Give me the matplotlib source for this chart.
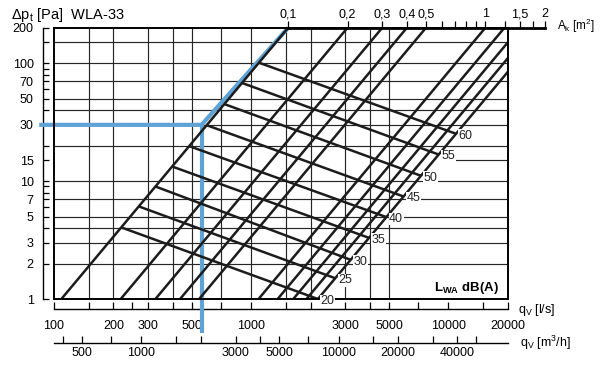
import numpy as np
import matplotlib
matplotlib.use("Agg")
import matplotlib.pyplot as plt
from matplotlib.ticker import NullFormatter, NullLocator

plt.rcParams['font.family'] = ['Liberation Sans', 'DejaVu Sans']
plt.rcParams['mathtext.fontset'] = 'custom'
plt.rcParams['mathtext.rm'] = 'Liberation Sans'
plt.rcParams['mathtext.it'] = 'Liberation Sans:italic'
plt.rcParams['mathtext.bf'] = 'Liberation Sans:bold'

# ---------------- data ----------------
q_range = [100, 20000]          # l/s
p_range = [1, 200]              # Pa
area_lines = [0.1, 0.2, 0.3, 0.4, 0.5, 1.0, 1.25, 1.5, 1.75, 2.0]   # A_k m2
K_area = 15410                  # q (l/s) per m2 of A_k at p_ref
p_ref = 200
lwa_levels = [20, 25, 30, 35, 40, 45, 50, 55, 60]
lwa_p_at_amin = [4.05, 6.1, 9.0, 13.3, 19.8, 29.8, 45.0, 68.0, 101.0]  # on A=0.1 line
lwa_p_at_amax = [1.0, 1.5, 2.15, 3.3, 4.95, 7.4, 11.1, 16.8, 25.2]     # on A=2 line
grid_q = [150, 200, 300, 400, 500, 700, 1000, 1500, 2000, 3000, 4000, 5000]
grid_p = [2, 3, 4, 5, 7, 10, 20, 30, 40, 50, 70, 100, 150]
grid_p_partial = 15
grid_p_partial_q = [10800, 20000]
y_major = [1, 2, 3, 5, 7, 10, 15, 30, 50, 70, 100, 200]
y_minor = [4, 6, 8, 9, 20, 40, 60, 80, 90, 150]
qls_major = [100, 200, 300, 500, 1000, 3000, 5000, 10000, 20000]
qls_minor = [150, 250, 400, 700, 1500, 2000, 4000, 7000, 15000]
qm3h_major = [500, 1000, 3000, 5000, 10000, 20000, 40000]
qm3h_minor = [400, 700, 1500, 2000, 4000, 7000, 15000, 30000, 50000]
A_major = [0.1, 0.2, 0.3, 0.4, 0.5, 1, 1.5, 2]
A_major_labels = ['0,1', '0,2', '0,3', '0,4', '0,5', '1', '1,5', '2']
A_minor = [0.6, 0.7, 0.8, 0.9, 1.25, 1.75]
q_sel = 560
p_sel = 30

# ---------------- figure ----------------
fig = plt.figure(figsize=(6.0, 3.65), dpi=100)
ax_l, ax_b, ax_w, ax_h = 0.09, 0.1808, 0.7562, 0.7433
ax = fig.add_axes([ax_l, ax_b, ax_w, ax_h])
ax.set_xscale('log')
ax.set_yscale('log')
ax.set_xlim(*q_range)
ax.set_ylim(*p_range)

# grid via main-axis ticks
ax.set_xticks(grid_q)
ax.set_yticks(grid_p)
ax.xaxis.set_minor_locator(NullLocator())
ax.yaxis.set_minor_locator(NullLocator())
ax.tick_params(which='both', length=0, labelbottom=False, labelleft=False)
ax.set_axisbelow(True)
ax.grid(True, which='major', color='#262626', lw=0.85)
ax.hlines(grid_p_partial, grid_p_partial_q[0], grid_p_partial_q[1], color='#262626', lw=0.85, zorder=0.5)
for s in ax.spines.values():
    s.set_linewidth(1.4)
    s.set_color('black')
    s.set_zorder(2.6)

line_col = '#1c1c1c'
# area lines
p_ends = np.array(p_range, dtype=float)
for A in area_lines:
    q = K_area * A * np.sqrt(p_ends / p_ref)
    ax.plot(q, p_ends, color=line_col, lw=1.8, solid_capstyle='butt', zorder=2)

# sound level lines
Amin, Amax = min(area_lines), max(area_lines)
for L, pl, pr in zip(lwa_levels, lwa_p_at_amin, lwa_p_at_amax):
    ql = K_area * Amin * np.sqrt(pl / p_ref)
    qr = K_area * Amax * np.sqrt(pr / p_ref)
    ax.plot([ql, qr], [pl, pr], color=line_col, lw=1.8, solid_capstyle='butt', zorder=2)
    ax.annotate(str(L), xy=(qr, pr), xytext=(2.0, -1.4), textcoords='offset points',
                ha='left', va='center', fontsize=9, color='#222',
                bbox=dict(fc='white', ec='none', pad=0.3), zorder=4, annotation_clip=False)

# selection (blue)
blue = '#5fa3d6'
q_left_ext = q_range[0] * 10 ** (-0.075)
p_low_ext = p_range[0] * 10 ** (-0.29)
ax.plot([q_left_ext, q_sel, K_area * Amin], [p_sel, p_sel, p_ref], color=blue, lw=3.0,
        solid_joinstyle='miter', solid_capstyle='butt', clip_on=False, zorder=1.5)
ax.plot([q_sel, q_sel], [p_sel, p_low_ext], color=blue, lw=3.0,
        solid_capstyle='butt', clip_on=False, zorder=1.5)

tick_fs = 9

# left pressure axis
secy = ax.secondary_yaxis(-0.025, functions=(lambda x: x, lambda x: x))
secy.set_yticks(y_major, labels=[str(v) for v in y_major])
secy.set_yticks(y_minor, minor=True)
secy.yaxis.set_minor_formatter(NullFormatter())
secy.tick_params(which='both', direction='in', length=4, width=0.9, labelsize=tick_fs, pad=6.5)
secy.spines['left'].set_linewidth(1.0)

# bottom l/s axis
secx = ax.secondary_xaxis(-0.038, functions=(lambda x: x, lambda x: x))
secx.set_xticks(qls_major, labels=[str(v) for v in qls_major])
secx.set_xticks(qls_minor, minor=True)
secx.xaxis.set_minor_formatter(NullFormatter())
secx.tick_params(which='both', direction='in', length=5, width=0.9, labelsize=tick_fs, pad=7.5)
secx.spines['bottom'].set_linewidth(1.0)

# bottom m3/h axis
secm = ax.secondary_xaxis(-0.163, functions=(lambda q: q * 3.6, lambda m: m / 3.6))
secm.set_xticks(qm3h_major, labels=[str(v) for v in qm3h_major])
secm.set_xticks(qm3h_minor, minor=True)
secm.xaxis.set_minor_formatter(NullFormatter())
secm.tick_params(which='both', direction='in', length=5, width=0.9, labelsize=tick_fs, pad=3)
secm.spines['bottom'].set_linewidth(1.0)

# top area axis (separate axes aligned to q scale)
lq0, lq1 = np.log10(q_range)
def fx(q):
    return ax_l + ax_w * (np.log10(q) - lq0) / (lq1 - lq0)
xa0 = fx(K_area * min(A_major))
xa1 = fx(K_area * max(A_major))
axA = fig.add_axes([xa0, ax_b + ax_h, xa1 - xa0, 1e-4])
axA.set_xscale('log')
axA.set_xlim(min(A_major), max(A_major))
axA.set_ylim(0, 1)
axA.patch.set_visible(False)
for k in ['left', 'right', 'bottom']:
    axA.spines[k].set_visible(False)
axA.spines['top'].set_linewidth(2.0)
axA.set_yticks([])
axA.set_xticks(A_major, labels=A_major_labels)
axA.set_xticks(A_minor, minor=True)
axA.xaxis.set_minor_formatter(NullFormatter())
axA.xaxis.set_ticks_position('top')
axA.tick_params(axis='x', which='both', top=True, bottom=False, labeltop=True, labelbottom=False,
                direction='out', length=5, width=0.9, labelsize=tick_fs, pad=0.5)

# texts
fig.text(11 / 600, 1 - 15 / 365, r'Δp$_\mathrm{t}$ [Pa]  WLA-33', fontsize=10.5, va='center', ha='left')
fig.text(557 / 600, 1 - 26 / 365, r'A$_\mathrm{k}$ [m$^2$]', fontsize=8.5, va='center', ha='left')
fig.text(518 / 600, 1 - 310 / 365, r'q$_\mathrm{V}$ [l/s]', fontsize=9, va='center', ha='left')
fig.text(520 / 600, 1 - 343 / 365, r'q$_\mathrm{V}$ [m$^3$/h]', fontsize=9, va='center', ha='left')
ax.text(0.981, 0.04, r'L$_\mathbf{WA}$ dB(A)', transform=ax.transAxes, fontsize=9.5,
        fontweight='bold', ha='right', va='center', zorder=5)

fig.savefig('out.png', dpi=100)
